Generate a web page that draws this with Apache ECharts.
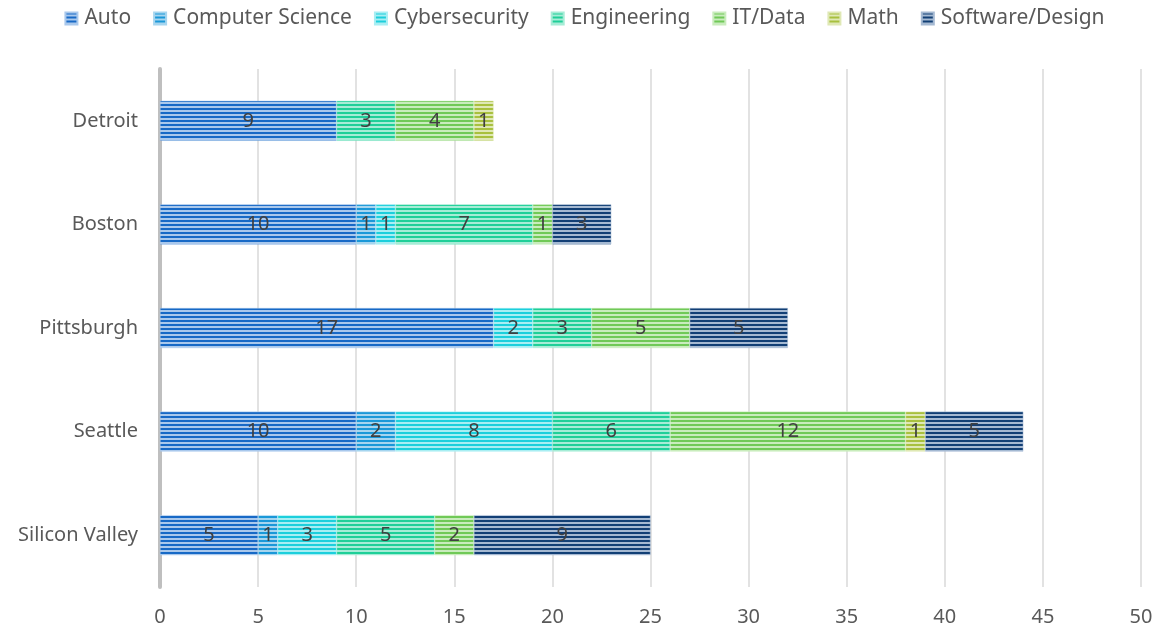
<!DOCTYPE html>
<html>
<head>
<meta charset="utf-8">
<script src="https://cdn.jsdelivr.net/npm/echarts@6/dist/echarts.min.js"></script>
<style>
  html, body { margin: 0; padding: 0; background: #fff; }
  #chart { width: 1169px; height: 632px; }
</style>
</head>
<body>
<div id="chart"></div>
<script>
// cities, bottom to top
var cities = ['Silicon Valley', 'Seattle', 'Pittsburgh', 'Boston', 'Detroit'];

var auto      = [5, 10, 17, 10, 9];
var compSci   = [1, 2, 0, 1, 0];
var cyber     = [3, 8, 2, 1, 0];
var eng       = [5, 6, 3, 7, 3];
var itData    = [2, 12, 5, 1, 4];
var math      = [0, 1, 0, 0, 1];
var software  = [9, 5, 5, 3, 0];

var xTicks = [0, 5, 10, 15, 20, 25, 30, 35, 40, 45, 50];

// striped fill like the excel pattern
function stripes(dark, light) {
  var c = document.createElement('canvas');
  c.width = 4; c.height = 4;
  var ctx = c.getContext('2d');
  ctx.fillStyle = light;
  ctx.fillRect(0, 0, 4, 4);
  ctx.fillStyle = dark;
  ctx.fillRect(0, 0, 4, 2);
  return { image: c, repeat: 'repeat' };
}

var seriesDefs = [
  { name: 'Auto', data: auto, dark: '#1769c6', light: '#a9c8ec' },
  { name: 'Computer Science', data: compSci, dark: '#1a98d8', light: '#a6d5ef' },
  { name: 'Cybersecurity', data: cyber, dark: '#1ccfdc', light: '#a8eef3' },
  { name: 'Engineering', data: eng, dark: '#1fcf98', light: '#a6ecd6' },
  { name: 'IT/Data', data: itData, dark: '#70c957', light: '#c9ecbd' },
  { name: 'Math', data: math, dark: '#a8c03e', light: '#dfe8b5' },
  { name: 'Software/Design', data: software, dark: '#123f75', light: '#a5b9d2' }
];

var chart = echarts.init(document.getElementById('chart'));

var series = seriesDefs.map(function (s) {
  return {
    name: s.name,
    type: 'bar',
    stack: 'total',
    barWidth: 40,
    data: s.data.map(function (v) { return v === 0 ? null : v; }),
    itemStyle: {
      color: stripes(s.dark, s.light),
      borderColor: s.light,
      borderWidth: 0.5
    },
    label: {
      show: true,
      position: 'inside',
      color: '#404040',
      fontSize: 20,
      fontFamily: 'Noto Sans',
      formatter: function (p) { return p.value ? p.value : ''; }
    }
  };
});

chart.setOption({
  animation: false,
  textStyle: { fontFamily: 'Noto Sans' },
  legend: {
    top: 3,
    left: 'center',
    itemWidth: 12,
    itemHeight: 12,
    itemGap: 22,
    icon: 'rect',
    textStyle: { color: '#595959', fontSize: 21, fontFamily: 'Noto Sans', padding: [0, 0, 0, 2] },
    data: seriesDefs.map(function (s) { return s.name; })
  },
  grid: {
    left: 160,
    right: 28,
    top: 69,
    bottom: 45
  },
  xAxis: {
    type: 'value',
    min: xTicks[0],
    max: xTicks[xTicks.length - 1],
    interval: 5,
    axisLine: { show: false },
    axisTick: { show: false },
    splitLine: { lineStyle: { color: '#d9d9d9', width: 1.5 } },
    axisLabel: { color: '#595959', fontSize: 20, margin: 20 }
  },
  yAxis: {
    type: 'category',
    data: cities,
    axisLine: { show: true, lineStyle: { color: '#bfbfbf', width: 4 } },
    axisTick: { show: false },
    axisLabel: { color: '#595959', fontSize: 20, margin: 22 }
  },
  series: series
});

window.addEventListener('resize', function () {
  chart.resize();
});
</script>
</body>
</html>
